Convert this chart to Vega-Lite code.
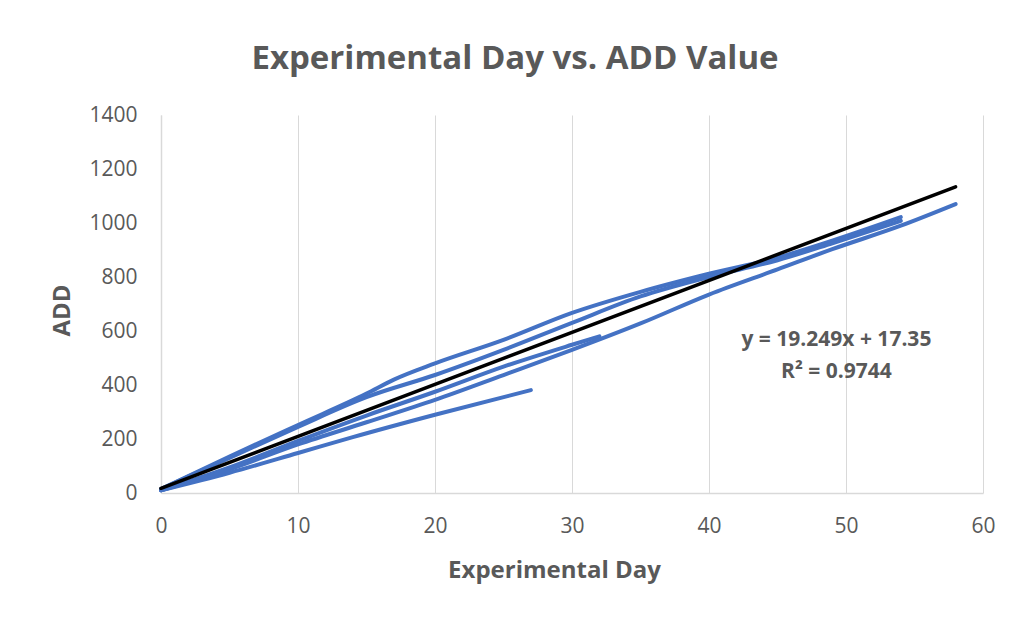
{
  "$schema": "https://vega.github.io/schema/vega-lite/v6.json",
  "autosize": "none",
  "width": 822,
  "height": 378,
  "padding": {"left": 161, "top": 115, "right": 30, "bottom": 124},
  "background": "white",
  "title": {
    "text": "Experimental Day vs. ADD Value",
    "font": "Open Sans",
    "fontSize": 33,
    "fontWeight": "bold",
    "color": "#595959",
    "anchor": "middle",
    "frame": "group",
    "dx": -57,
    "offset": 28
  },
  "datasets": {
    "series": [
      {"series": "A", "day": 0, "add": 10},
      {"series": "A", "day": 5, "add": 75},
      {"series": "A", "day": 10, "add": 148},
      {"series": "A", "day": 14, "add": 207},
      {"series": "A", "day": 20, "add": 290},
      {"series": "A", "day": 27, "add": 381},
      {"series": "B", "day": 0, "add": 10},
      {"series": "B", "day": 5, "add": 95},
      {"series": "B", "day": 10, "add": 193},
      {"series": "B", "day": 15, "add": 287},
      {"series": "B", "day": 20, "add": 375},
      {"series": "B", "day": 25, "add": 468},
      {"series": "B", "day": 30, "add": 549},
      {"series": "B", "day": 32, "add": 580},
      {"series": "C", "day": 0, "add": 10},
      {"series": "C", "day": 5, "add": 88},
      {"series": "C", "day": 10, "add": 180},
      {"series": "C", "day": 15, "add": 262},
      {"series": "C", "day": 20, "add": 345},
      {"series": "C", "day": 25, "add": 437},
      {"series": "C", "day": 30, "add": 530},
      {"series": "C", "day": 35, "add": 628},
      {"series": "C", "day": 40, "add": 735},
      {"series": "C", "day": 45, "add": 828},
      {"series": "C", "day": 49, "add": 903},
      {"series": "C", "day": 54, "add": 990},
      {"series": "C", "day": 58, "add": 1070},
      {"series": "D", "day": 0, "add": 15},
      {"series": "D", "day": 5, "add": 135},
      {"series": "D", "day": 10, "add": 252},
      {"series": "D", "day": 15, "add": 368},
      {"series": "D", "day": 17, "add": 420},
      {"series": "D", "day": 20, "add": 480},
      {"series": "D", "day": 25, "add": 567},
      {"series": "D", "day": 30, "add": 667},
      {"series": "D", "day": 35, "add": 745},
      {"series": "D", "day": 40, "add": 812},
      {"series": "D", "day": 45, "add": 872},
      {"series": "D", "day": 49, "add": 935},
      {"series": "D", "day": 54, "add": 1022},
      {"series": "E", "day": 0, "add": 15},
      {"series": "E", "day": 5, "add": 130},
      {"series": "E", "day": 10, "add": 245},
      {"series": "E", "day": 15, "add": 355},
      {"series": "E", "day": 20, "add": 437},
      {"series": "E", "day": 25, "add": 530},
      {"series": "E", "day": 30, "add": 630},
      {"series": "E", "day": 35, "add": 728},
      {"series": "E", "day": 40, "add": 800},
      {"series": "E", "day": 45, "add": 862},
      {"series": "E", "day": 49, "add": 925},
      {"series": "E", "day": 54, "add": 1008}
    ],
    "trend": [
      {"day": 0, "add": 17.35},
      {"day": 58, "add": 1133.79}
    ],
    "labels": [
      {"day": 49.3, "add": 567, "label": "y = 19.249x + 17.35"},
      {"day": 49.3, "add": 448, "label": "R² = 0.9744"}
    ]
  },
  "encoding": {
    "x": {
      "field": "day",
      "type": "quantitative",
      "scale": {"domain": [0, 60], "nice": false, "zero": false},
      "axis": {
        "values": [0, 10, 20, 30, 40, 50, 60],
        "format": "d",
        "title": "Experimental Day",
        "titleFont": "Open Sans",
        "titleFontSize": 24,
        "titleFontWeight": "bold",
        "titleColor": "#595959",
        "titleX": 393,
        "titleY": 77,
        "titleBaseline": "middle",
        "labelFont": "Open Sans",
        "labelFontSize": 21,
        "labelColor": "#595959",
        "labelPadding": 22,
        "labelFlush": false,
        "ticks": false,
        "grid": true,
        "gridColor": "#d9d9d9",
        "gridWidth": 1,
        "domainColor": "#d9d9d9",
        "domainWidth": 1.5
      }
    },
    "y": {
      "field": "add",
      "type": "quantitative",
      "scale": {"domain": [0, 1400], "nice": false},
      "axis": {
        "values": [0, 200, 400, 600, 800, 1000, 1200, 1400],
        "format": "d",
        "title": "ADD",
        "titleFont": "Open Sans",
        "titleFontSize": 24,
        "titleFontWeight": "bold",
        "titleColor": "#595959",
        "titleAngle": -90,
        "titleX": -99,
        "titleY": 195,
        "titleBaseline": "middle",
        "titleAlign": "center",
        "labelFont": "Open Sans",
        "labelFontSize": 21,
        "labelColor": "#595959",
        "labelPadding": 24,
        "labelFlush": false,
        "ticks": false,
        "grid": false,
        "domainColor": "#d9d9d9",
        "domainWidth": 1.5
      }
    }
  },
  "layer": [
    {
      "data": {"name": "series"},
      "mark": {"type": "line", "interpolate": "monotone", "color": "#4472C4", "strokeWidth": 4, "strokeCap": "round"},
      "encoding": {"detail": {"field": "series", "type": "nominal"}}
    },
    {
      "data": {"name": "trend"},
      "mark": {"type": "line", "color": "#000000", "strokeWidth": 3.5, "strokeCap": "round"},
      "encoding": {}
    },
    {
      "data": {"name": "labels"},
      "mark": {"type": "text", "font": "Open Sans", "fontSize": 21, "fontWeight": "bold", "color": "#595959", "align": "center", "baseline": "middle"},
      "encoding": {"text": {"field": "label", "type": "nominal"}}
    }
  ],
  "config": {"view": {"stroke": null}}
}
